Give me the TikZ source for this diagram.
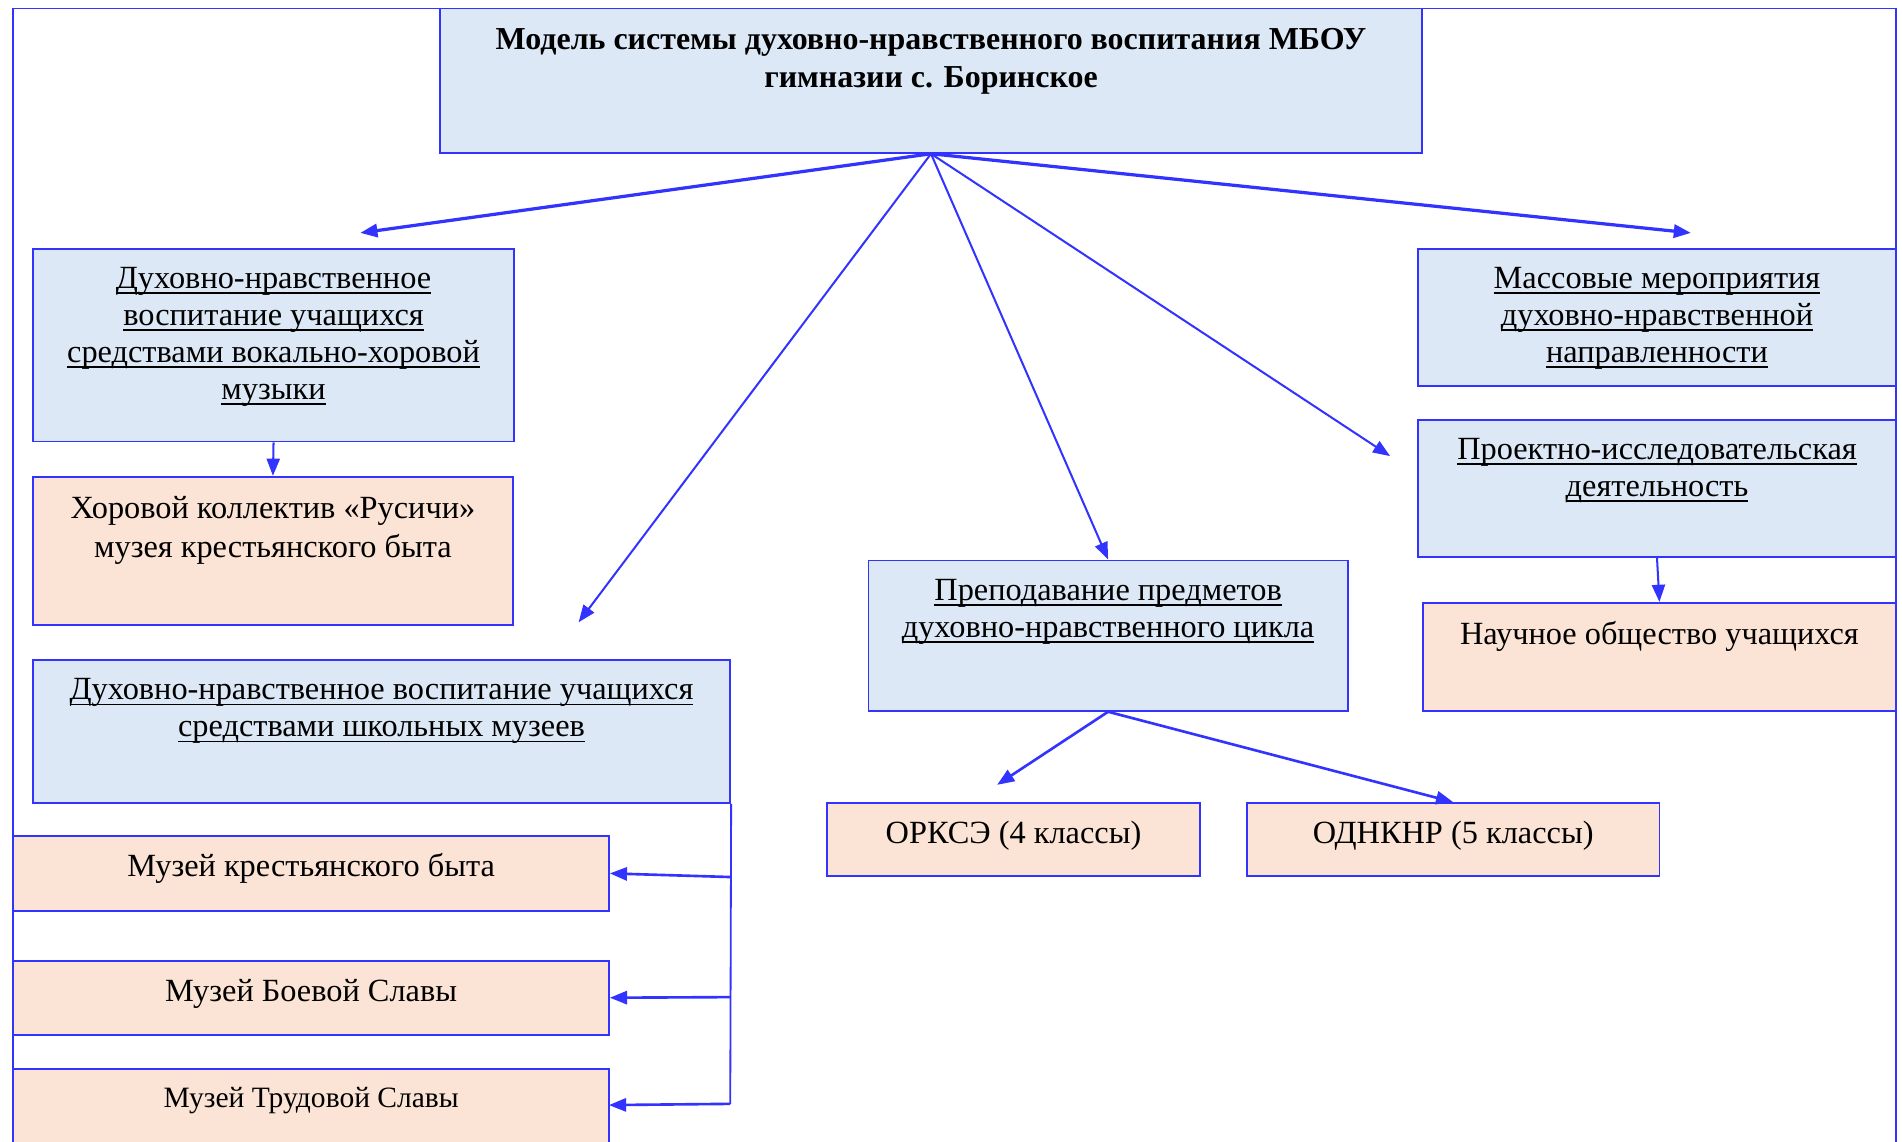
\documentclass[tikz,border=0pt]{standalone}
\usepackage{fontspec}
\setmainfont{Liberation Serif}
\newcommand{\myul}[1]{\sbox0{#1}\rlap{\rule[-2.6pt]{\wd0}{0.8pt}}\usebox0}
\usetikzlibrary{arrows.meta,fit}
\definecolor{bl}{RGB}{51,51,255}
\definecolor{lblue}{RGB}{220,232,245}
\definecolor{peach}{RGB}{251,228,213}
\tikzset{
  lb/.style={draw=bl, fill=lblue, line width=0.9pt, inner sep=0pt},
  pc/.style={draw=bl, fill=peach, line width=0.9pt, inner sep=0pt},
  txt/.style={inner sep=0pt, align=center, anchor=north,
    font=\fontsize{16}{18.3}\selectfont, execute at begin node=\strut},
  frameline/.style={draw=bl, line width=0.9pt},
  arr/.style={draw=bl, line width=1pt, -{Triangle[length=8.5pt,width=6.5pt]}},
  thickarr/.style={arr, line width=1.6pt},
  midarr/.style={arr, line width=1.3pt},
}
\begin{document}
\begin{tikzpicture}[x=0.6pt,y=-0.6pt]
\useasboundingbox (0,0) rectangle (1568,941);
\begin{scope}
\clip (0,0) rectangle (1568,941);
\draw[frameline] (11,960) -- (11,7) -- (1563,7) -- (1563,960);

% title
\node[lb, fit={(363,7)(1172,126)}] (T) {};
\node[txt, font=\fontsize{15.8}{18.6}\selectfont\bfseries] (Tt) at ([yshift=-10.2pt]T.north)
  {Модель системы духовно-нравственного воспитания МБОУ\\гимназии с. Боринское};

% left column
\node[lb, fit={(27,205)(424,364)}] (A) {};
\node[txt] (At) at ([yshift=-9.6pt]A.north)
  {\myul{Духовно-нравственное}\\\myul{воспитание учащихся}\\\myul{средствами вокально-хоровой}\\\myul{музыки}};
\node[pc, fit={(27,393)(423,515)}] (A2) {};
\node[txt, font=\fontsize{16}{19.2}\selectfont] (A2t) at ([yshift=-10.2pt]A2.north)
  {Хоровой коллектив «Русичи»\\музея крестьянского быта};
\node[lb, fit={(27,544)(602,662)}] (B) {};
\node[txt] (Bt) at ([yshift=-9.6pt]B.north)
  {\myul{Духовно-нравственное воспитание учащихся}\\\myul{средствами школьных музеев}};
\node[pc, fit={(11,689)(502,751)}] (M1) {};
\node[txt] (M1t) at ([yshift=-7.8pt]M1.north) {Музей крестьянского быта};
\node[pc, fit={(11,792)(502,853)}] (M2) {};
\node[txt] (M2t) at ([yshift=-7.4pt]M2.north) {Музей Боевой Славы};
\node[pc, fit={(11,881)(502,980)}] (M3) {};
\node[txt, font=\fontsize{14.6}{17}\selectfont] (M3t) at ([yshift=-7.7pt]M3.north) {Музей Трудовой Славы};

% middle
\node[lb, fit={(716,462)(1111,586)}] (C) {};
\node[txt] (Ct) at ([yshift=-9.6pt]C.north)
  {\myul{Преподавание предметов}\\\myul{духовно-нравственного цикла}};
\node[pc, fit={(682,662)(989,722)}] (O1) {};
\node[txt] (O1t) at ([yshift=-7.7pt]O1.north) {ОРКСЭ (4 классы)};
\node[pc, fit={(1028,662)(1368,722)}] (O2) {};
\node[txt] (O2t) at ([yshift=-7.7pt]O2.north) {ОДНКНР (5 классы)};

% right column
\node[lb, fit={(1169,205)(1563,318)}] (D) {};
\node[txt] (Dt) at ([yshift=-9.6pt]D.north)
  {\myul{Массовые мероприятия}\\\myul{духовно-нравственной}\\\myul{направленности}};
\node[lb, fit={(1169,346)(1563,459)}] (E) {};
\node[txt] (Et) at ([yshift=-9.6pt]E.north)
  {\myul{Проектно-исследовательская}\\\myul{деятельность}};
\node[pc, fit={(1173,497)(1563,586)}] (F) {};
\node[txt] (Ft) at ([yshift=-7.8pt]F.north) {Научное общество учащихся};

% free ends
\coordinate (eA) at (297,192);
\coordinate (eB) at (477,513);
\coordinate (eE) at (1146,376);
\coordinate (eD) at (1394,192);
\coordinate (eO1) at (822,647);
\coordinate (bus1) at (602,723);
\coordinate (bus2) at (602,822);
\coordinate (bus3) at (602,910);
\coordinate (eM3) at (502,911);

% connectors
\draw[thickarr] (T.south) -- (eA);
\draw[arr] (T.south) -- (eB);
\draw[arr] (T.south) -- (C.north);
\draw[arr] (T.south) -- (eE);
\draw[thickarr] (T.south) -- (eD);
\draw[midarr] (C.south) -- (eO1);
\draw[midarr] (C.south) -- (O2.north);
\draw[arr] (A.south) -- (A2.north);
\draw[arr] (E.south) -- (F.north);
\draw[frameline] (B.south east) -- (bus3);
\draw[midarr] (bus1) -- (M1.east);
\draw[midarr] (bus2) -- (M2.east);
\draw[midarr] (bus3) -- (eM3);
\end{scope}
\end{tikzpicture}
\end{document}
